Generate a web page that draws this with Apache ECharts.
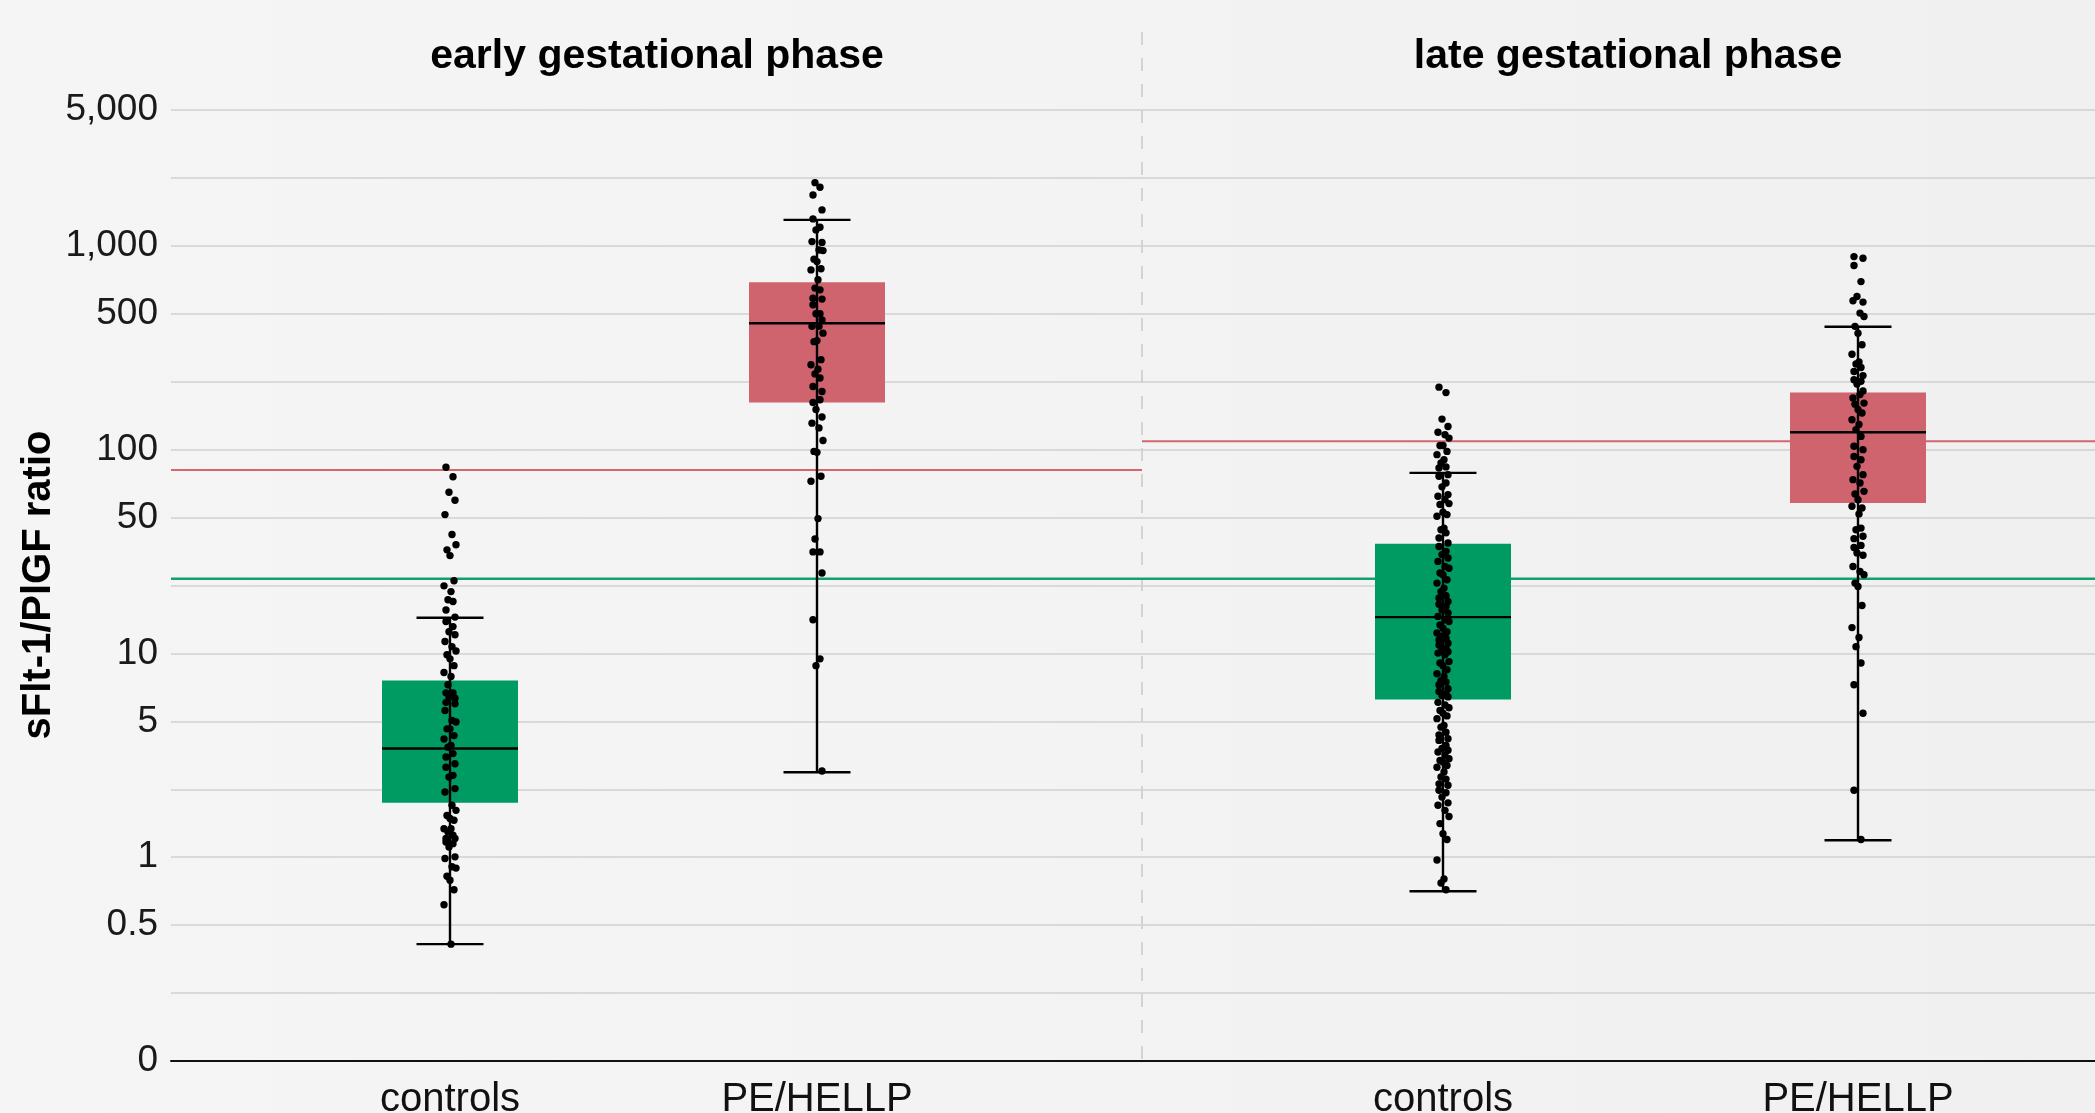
<!DOCTYPE html>
<html>
<head>
<meta charset="utf-8">
<script src="https://cdn.jsdelivr.net/npm/echarts@6/dist/echarts.min.js"></script>
<style>
html,body{margin:0;padding:0;background:#f3f3f3;}
#chart{width:2095px;height:1113px;}
</style>
</head>
<body>
<div id="chart"></div>
<script>
// ---------- data ----------
const PHASES = ['early gestational phase', 'late gestational phase'];
const CATEGORIES = ['controls', 'PE/HELLP'];
const Y_TITLE = 'sFlt-1/PlGF ratio';

// axis scale: labelled tick values and their step positions
const TICK_VALUES = [0, 0.5, 1, 5, 10, 50, 100, 500, 1000, 5000];
const TICK_STEPS  = [0, 2, 3, 5, 6, 8, 9, 11, 12, 14];
const TICK_LABELS = ['0', '0.5', '1', '5', '10', '50', '100', '500', '1,000', '5,000'];

// cut-off lines
const CUTOFF_EARLY_RED = 85;
const CUTOFF_LATE_RED = 125;
const CUTOFF_GREEN = 32;

// box statistics: [min, q1, median, q3, max]
const BOX_EARLY_CONTROLS = [0.43, 2.6, 4.2, 8.0, 20.5];
const BOX_EARLY_PE       = [3.5, 239, 472, 733, 1764];
const BOX_LATE_CONTROLS  = [0.75, 6.6, 20.7, 42.3, 82.9];
const BOX_LATE_PE        = [1.5, 60.8, 151, 268, 462];

// individual measurements
const DOTS_EARLY_CONTROLS = [87, 80.1, 68.6, 62.7, 52.2, 45, 42, 40.5, 38.8, 31.4, 29.9, 28.2, 25.8, 25.3,
  22.8, 20.7, 19.4, 17.9, 16.4, 15.5, 13.5, 12.0, 10.7, 9.9, 9.6, 9.1, 8.6, 8.3, 7.7, 7.1, 7.1, 6.7, 6.4,
  6.8, 6.8, 6.3, 5.8, 5.07, 4.98, 4.78, 4.78, 4.58, 4.48, 4.29, 4.24, 4.05, 3.95, 3.75, 3.65, 3.41, 3.36,
  3.02, 2.92, 2.53, 2.38, 2.23, 2.14, 2.09, 1.84, 1.84, 1.74, 1.65, 1.55, 1.55, 1.45, 1.40, 1.30, 1.01,
  0.99, 0.93, 0.92, 0.86, 0.83, 0.76, 0.65, 0.43];
const DOTS_EARLY_PE = [2861, 2726, 2499, 2058, 1794, 1550, 1470, 1097, 1126, 970, 965, 902, 884, 831, 823,
  750, 689, 676, 615, 608, 566, 500, 500, 482, 463, 463, 443, 418, 421, 365, 350, 337, 323, 311, 286, 271,
  239, 247, 218, 196, 178, 164, 127, 98.7, 98, 80.4, 76.7, 49.7, 43.7, 39.9, 39.9, 33.7, 19.9, 9.6, 9.1, 3.54];
const DOTS_LATE_CONTROLS = [284, 268, 190, 168, 151, 144, 134, 112, 112, 98.7, 96.3, 92.6, 90.2, 87.3, 86.5,
  81.6, 80.4, 75.5, 72.6, 66.9, 65.7, 63.2, 60.3, 59.6, 53.9, 52.2, 51.0, 46.9, 46.4, 45.5, 44.0, 42.5,
  41.5, 40.0, 39.1, 38.1, 37.1, 35.6, 35.1, 33.7, 33.2, 31.7, 30.7, 29.2, 28.2, 27.0, 26.3, 25.3, 24.5,
  23.8, 22.8, 21.9, 20.9, 19.9, 19.4, 18.4, 17.4, 16.4, 16.0, 15.0, 15.0, 14.5, 14.0, 13.0, 12.5, 11.5,
  11.0, 10.5, 10.1, 9.9, 9.4, 9.3, 9.1, 8.8, 8.5, 8.3, 8.0, 7.9, 7.7, 7.4, 7.2, 7.0, 6.9, 6.8, 6.4, 6.2,
  6.0, 5.8, 5.6, 5.4, 5.2, 4.88, 4.83, 4.68, 4.6, 4.49, 4.44, 4.29, 4.20, 4.15, 4.1, 4.00, 3.90, 3.85,
  3.8, 3.70, 3.65, 3.51, 3.36, 3.3, 3.16, 3.12, 2.97, 2.9, 2.77, 2.6, 2.53, 2.38, 2.2, 1.99, 1.69, 1.52,
  0.98, 0.84, 0.81, 0.76];
const DOTS_LATE_PE = [921, 909, 855, 737, 627, 586, 596, 505, 492, 463, 443, 409, 381, 358, 352, 342, 330,
  318, 306, 301, 293, 273, 252, 262, 237, 234, 218, 208, 188, 174, 159, 139, 110, 100, 95, 92.6, 87.7,
  81.6, 77.9, 75.5, 69.3, 67.4, 63.2, 57.1, 58.3, 52.7, 46.4, 46.9, 43.8, 44.5, 41.2, 41.8, 39.6, 38.9,
  35.6, 34.1, 33.2, 30.7, 29.7, 24.1, 17.6, 14.7, 12.0, 9.3, 7.7, 5.6, 2.97, 1.52];

// ---------- styling ----------
const FONT = '"Liberation Sans", Arial, Helvetica, sans-serif';
const GREEN = '#009b62';
const RED = '#cf636e';
const LINE_RED = '#d4666f';
const LINE_GREEN = '#14a06c';
const GRID_COLOR = '#d0d0d0';
const BOX_W = 136, CAP_W = 67, DOT_R = 3.7;
const JITTER = [-4, 3, -1, 5, -5, 2, 6, -3, 0, 4, -6, 1, -2, 3, -4, 5];

// piecewise-linear axis transform
function t(v) {
  for (let i = 0; i < TICK_VALUES.length - 1; i++) {
    if (v <= TICK_VALUES[i + 1]) {
      const f = (v - TICK_VALUES[i]) / (TICK_VALUES[i + 1] - TICK_VALUES[i]);
      return TICK_STEPS[i] + f * (TICK_STEPS[i + 1] - TICK_STEPS[i]);
    }
  }
  return TICK_STEPS[TICK_STEPS.length - 1];
}
function labelFor(val) {
  const r = Math.round(val);
  if (Math.abs(val - r) > 1e-6) return '';
  const i = TICK_STEPS.indexOf(r);
  return i >= 0 ? TICK_LABELS[i] : '';
}

const chart = echarts.init(document.getElementById('chart'), null, {renderer: 'canvas'});

const TOP = 110, H = 951;
const grids = [
  {left: 171, top: TOP, width: 971, height: H, outerBoundsMode: 'none', containLabel: false},
  {left: 1142, top: TOP, width: 953, height: H, outerBoundsMode: 'none', containLabel: false},
  {left: 266.5, top: TOP, width: 734, height: H, outerBoundsMode: 'none', containLabel: false},
  {left: 1235.5, top: TOP, width: 830, height: H, outerBoundsMode: 'none', containLabel: false}
];

function valueX(gi) {
  return {type: 'value', gridIndex: gi, min: 0, max: 1,
    axisLine: {show: true, onZero: false, lineStyle: {color: '#111', width: 2}},
    axisTick: {show: false}, axisLabel: {show: false}, splitLine: {show: false}};
}
function catX(gi) {
  return {type: 'category', gridIndex: gi, data: CATEGORIES,
    axisLine: {show: false}, axisTick: {show: false}, splitLine: {show: false},
    axisLabel: {margin: 19, fontSize: 40, color: '#111', fontFamily: FONT}};
}
function valY(gi, labels) {
  return {type: 'value', gridIndex: gi, min: 0, max: 14, interval: 1,
    axisLine: {show: false}, axisTick: {show: false},
    axisLabel: {show: labels, formatter: labelFor, fontSize: 37, color: '#1a1a1a', fontFamily: FONT,
      margin: 13, padding: [6, 0, 0, 0]},
    splitLine: {show: true, lineStyle: {color: GRID_COLOR, width: 1.5}}};
}
function hiddenY(gi) {
  return {type: 'value', gridIndex: gi, min: 0, max: 14, show: false};
}

function cutLine(xi, val, color, width) {
  return {type: 'line', xAxisIndex: xi, yAxisIndex: xi, symbol: 'none', silent: true, z: 1,
    data: [[0, t(val)], [1, t(val)]], lineStyle: {color: color, width: width}};
}

function boxData(a, b) {
  return [[0].concat(a.map(t)), [1].concat(b.map(t))];
}
function boxSeries(xi, data) {
  return {type: 'custom', xAxisIndex: xi, yAxisIndex: xi, z: 2, silent: true,
    encode: {x: 0, y: [1, 2, 3, 4, 5]}, data: data,
    renderItem: function (params, api) {
      const x = api.value(0);
      const q1 = api.coord([x, api.value(2)]);
      const q3 = api.coord([x, api.value(4)]);
      return {type: 'rect', shape: {x: q1[0] - BOX_W / 2, y: q3[1], width: BOX_W, height: q1[1] - q3[1]},
        style: {fill: x === 0 ? GREEN : RED}};
    }};
}
function whiskerSeries(xi, data) {
  return {type: 'custom', xAxisIndex: xi, yAxisIndex: xi, z: 4, silent: true,
    encode: {x: 0, y: [1, 2, 3, 4, 5]}, data: data,
    renderItem: function (params, api) {
      const x = api.value(0);
      const mn = api.coord([x, api.value(1)]);
      const md = api.coord([x, api.value(3)]);
      const mx = api.coord([x, api.value(5)]);
      const st = {stroke: '#000', lineWidth: 2.4};
      return {type: 'group', children: [
        {type: 'line', shape: {x1: mn[0], y1: mn[1], x2: mx[0], y2: mx[1]}, style: st},
        {type: 'line', shape: {x1: mn[0] - CAP_W / 2, y1: mn[1], x2: mn[0] + CAP_W / 2, y2: mn[1]}, style: st},
        {type: 'line', shape: {x1: mx[0] - CAP_W / 2, y1: mx[1], x2: mx[0] + CAP_W / 2, y2: mx[1]}, style: st},
        {type: 'line', shape: {x1: md[0] - BOX_W / 2, y1: md[1], x2: md[0] + BOX_W / 2, y2: md[1]}, style: st}
      ]};
    }};
}
function dotSeries(xi, a, b) {
  const data = a.map(v => [0, t(v)]).concat(b.map(v => [1, t(v)]));
  return {type: 'custom', xAxisIndex: xi, yAxisIndex: xi, z: 3, silent: true,
    encode: {x: 0, y: 1}, data: data,
    renderItem: function (params, api) {
      const p = api.coord([api.value(0), api.value(1)]);
      const j = JITTER[params.dataIndex % JITTER.length];
      return {type: 'circle', shape: {cx: p[0] + j, cy: p[1], r: DOT_R}, style: {fill: '#000'}};
    }};
}

const option = {
  animation: false,
  backgroundColor: {type: 'linear', x: 0, y: 0, x2: 1, y2: 0,
    colorStops: [{offset: 0, color: '#f5f5f5'}, {offset: 0.5, color: '#f3f3f3'}, {offset: 1, color: '#f1f0f0'}]},
  grid: grids,
  xAxis: [valueX(0), valueX(1), catX(2), catX(3)],
  yAxis: [valY(0, true), valY(1, false), hiddenY(2), hiddenY(3)],
  graphic: [
    {type: 'line', silent: true, z: 0, shape: {x1: 1142, y1: 32, x2: 1142, y2: 1061},
      style: {stroke: '#c9c9c9', lineWidth: 1.5, lineDash: [13, 13]}},
    {type: 'text', x: 657, y: 57, style: {text: PHASES[0], font: 'bold 41px ' + FONT, fill: '#000', align: 'center', verticalAlign: 'middle'}},
    {type: 'text', x: 1628, y: 57, style: {text: PHASES[1], font: 'bold 41px ' + FONT, fill: '#000', align: 'center', verticalAlign: 'middle'}},
    {type: 'text', x: 39, y: 585, rotation: Math.PI / 2, style: {text: Y_TITLE, font: 'bold 40px ' + FONT, fill: '#000', align: 'center', verticalAlign: 'middle'}}
  ],
  series: [
    cutLine(0, CUTOFF_EARLY_RED, LINE_RED, 2),
    cutLine(0, CUTOFF_GREEN, LINE_GREEN, 2.4),
    cutLine(1, CUTOFF_LATE_RED, LINE_RED, 2),
    cutLine(1, CUTOFF_GREEN, LINE_GREEN, 2.4),
    boxSeries(2, boxData(BOX_EARLY_CONTROLS, BOX_EARLY_PE)),
    dotSeries(2, DOTS_EARLY_CONTROLS, DOTS_EARLY_PE),
    whiskerSeries(2, boxData(BOX_EARLY_CONTROLS, BOX_EARLY_PE)),
    boxSeries(3, boxData(BOX_LATE_CONTROLS, BOX_LATE_PE)),
    dotSeries(3, DOTS_LATE_CONTROLS, DOTS_LATE_PE),
    whiskerSeries(3, boxData(BOX_LATE_CONTROLS, BOX_LATE_PE))
  ]
};
chart.setOption(option);
</script>
</body>
</html>
